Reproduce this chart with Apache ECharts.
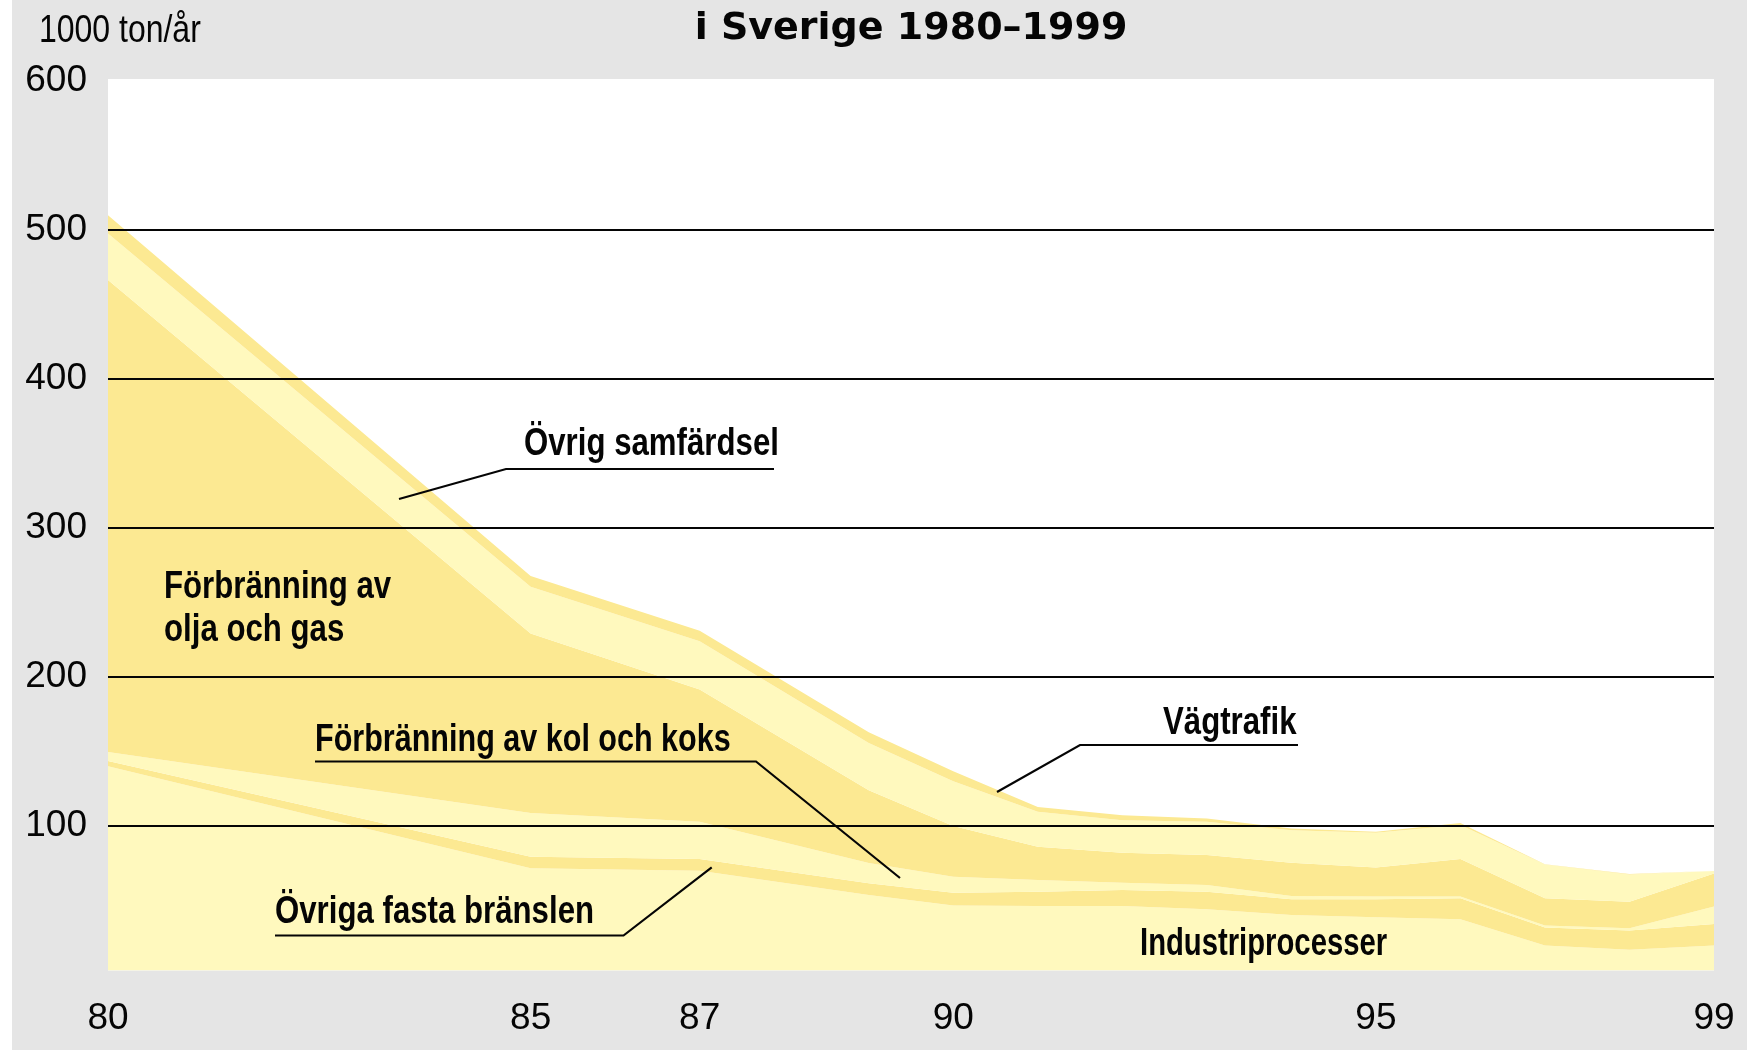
<!DOCTYPE html>
<html>
<head>
<meta charset="utf-8">
<script src="https://cdn.jsdelivr.net/npm/echarts@6/dist/echarts.min.js"></script>
<style>
  html, body { margin: 0; padding: 0; background: #fff; }
  #chart { width: 1747px; height: 1050px; }
</style>
</head>
<body>
<div id="chart"></div>
<script>
// Svaveldioxidutsläpp per källa, 1000 ton/år (staplade ytor)
const years = [80, 85, 87, 89, 90, 91, 92, 93, 94, 95, 96, 97, 98, 99];
const industriprocesser   = [140.1, 71.6, 70.0, 53.7, 46.7, 46.3, 46.3, 44.1, 40.3, 38.8, 37.4, 19.8, 16.9, 19.8];
const ovrigaFastaBranslen = [3.5, 7.7, 7.8, 7.8, 8.5, 9.6, 10.7, 11.8, 10.5, 12.0, 14.1, 12.0, 12.9, 14.5];
const kolOchKoks          = [6.1, 29.5, 25.0, 13.6, 10.8, 7.8, 4.9, 4.5, 2.2, 1.8, 1.1, 1.4, 1.6, 11.6];
const oljaOchGas          = [316.9, 120.5, 88.8, 48.9, 34.0, 22.3, 20.1, 20.1, 22.3, 19.6, 25.2, 18.3, 17.8, 22.3];
const ovrigSamfardsel     = [31.2, 31.3, 32.4, 31.7, 30.0, 23.5, 21.9, 22.3, 21.9, 23.2, 22.8, 22.7, 18.3, 1.6];
const vagtrafik           = [12.3, 7.3, 7.1, 7.3, 6.8, 3.3, 3.4, 2.2, 1.1, 0.7, 1.5, 0.2, 0.3, 0.2];

const xTickLabels = [80, 85, 87, 90, 95, 99];
const yTickLabels = [100, 200, 300, 400, 500, 600];
const gridValues  = [100, 200, 300, 400, 500];

const LIGHT = '#FFF9BE';
const DARK  = '#FCE992';
const INK   = '#050505';
const SANS = '"Liberation Sans", Arial, sans-serif';

const layers = [
  { name: 'Industriprocesser', values: industriprocesser, color: LIGHT },
  { name: 'Övriga fasta bränslen', values: ovrigaFastaBranslen, color: DARK },
  { name: 'Förbränning av kol och koks', values: kolOchKoks, color: LIGHT },
  { name: 'Förbränning av olja och gas', values: oljaOchGas, color: DARK },
  { name: 'Övrig samfärdsel', values: ovrigSamfardsel, color: LIGHT },
  { name: 'Vägtrafik', values: vagtrafik, color: DARK }
];

// Värdet ligger först i varje punkt så att staplingen sker på y-dimensionen
const series = layers.map(layer => ({
  name: layer.name,
  type: 'line',
  stack: 'total',
  data: years.map((y, k) => [layer.values[k], y]),
  encode: { x: 1, y: 0 },
  symbol: 'none',
  lineStyle: { width: 0 },
  areaStyle: { color: layer.color, opacity: 1 },
  itemStyle: { color: layer.color },
  silent: true,
  z: 2
}));

// Horisontella stödlinjer ovanpå ytorna
series.push({
  name: 'stödlinjer',
  type: 'line',
  data: [],
  markLine: {
    silent: true,
    symbol: 'none',
    label: { show: false },
    lineStyle: { color: INK, width: 2, type: 'solid' },
    data: gridValues.map(v => ({ yAxis: v }))
  },
  z: 5
});

function label(text, x, y, size, weight, scaleX) {
  return {
    type: 'text', x: x, y: y, z: 20, scaleX: scaleX || 0.8, scaleY: 1,
    style: { text: text, font: (weight || 'bold') + ' ' + size + 'px ' + SANS, fill: INK,
             textAlign: 'left', align: 'left', textVerticalAlign: 'middle', verticalAlign: 'middle' }
  };
}

// Etikett med understrykning och hänvisningslinje
function tag(text, x, y, pts, scaleX) {
  const els = [label(text, x, y, 39, 'bold', scaleX)];
  if (pts) {
    els.push({
      type: 'polyline', z: 20,
      shape: { points: pts },
      style: { stroke: INK, lineWidth: 2.2, fill: null }
    });
  }
  return els;
}

const graphics = [
  { type: 'rect', shape: { x: 0, y: 0, width: 12, height: 1050 }, style: { fill: '#fff' }, z: 0 },
  { type: 'text', x: 911, y: 29, z: 20,
    style: { text: 'i Sverige 1980–1999', font: 'bold 38px "DejaVu Sans", sans-serif', fill: INK,
             textAlign: 'center', align: 'center', textVerticalAlign: 'middle', verticalAlign: 'middle' } },
  label('1000 ton/år', 39, 31, 39, 'normal', 0.82)
]
  .concat(tag('Övrig samfärdsel', 524, 444, [[399, 499], [506, 469], [774, 469]]))
  .concat(tag('Förbränning av', 164, 587))
  .concat(tag('olja och gas', 164, 630))
  .concat(tag('Förbränning av kol och koks', 315, 740, [[900, 878], [756, 761.5], [315, 761.5]], 0.783))
  .concat(tag('Vägtrafik', 1163, 723, [[997, 792], [1080, 745], [1298, 745]]))
  .concat(tag('Övriga fasta bränslen', 275, 912, [[711.7, 867.3], [623.5, 935.5], [275, 935.5]]))
  .concat(tag('Industriprocesser', 1140, 944, null, 0.75));

const chart = echarts.init(document.getElementById('chart'), null, { renderer: 'canvas' });
chart.setOption({
  animation: false,
  backgroundColor: '#e5e5e5',
  grid: { left: 108, right: 33, top: 79, bottom: 79.5, show: true, backgroundColor: '#fff', borderWidth: 0 },
  xAxis: {
    type: 'value', min: 80, max: 99, interval: 1,
    axisLine: { show: false }, axisTick: { show: false }, splitLine: { show: false },
    axisLabel: {
      margin: 30, color: INK, fontSize: 37, fontFamily: SANS,
      showMinLabel: true, showMaxLabel: true,
      formatter: v => xTickLabels.includes(v) ? String(v) : ''
    }
  },
  yAxis: {
    type: 'value', min: 3, max: 601.5,
    axisLine: { show: false }, axisTick: { show: false }, splitLine: { show: false },
    axisLabel: {
      margin: 21, color: INK, fontSize: 37, fontFamily: SANS,
      showMinLabel: true, showMaxLabel: true,
      formatter: v => yTickLabels.includes(v) ? String(v) : ''
    }
  },
  series: series,
  graphic: graphics
});
</script>
</body>
</html>
